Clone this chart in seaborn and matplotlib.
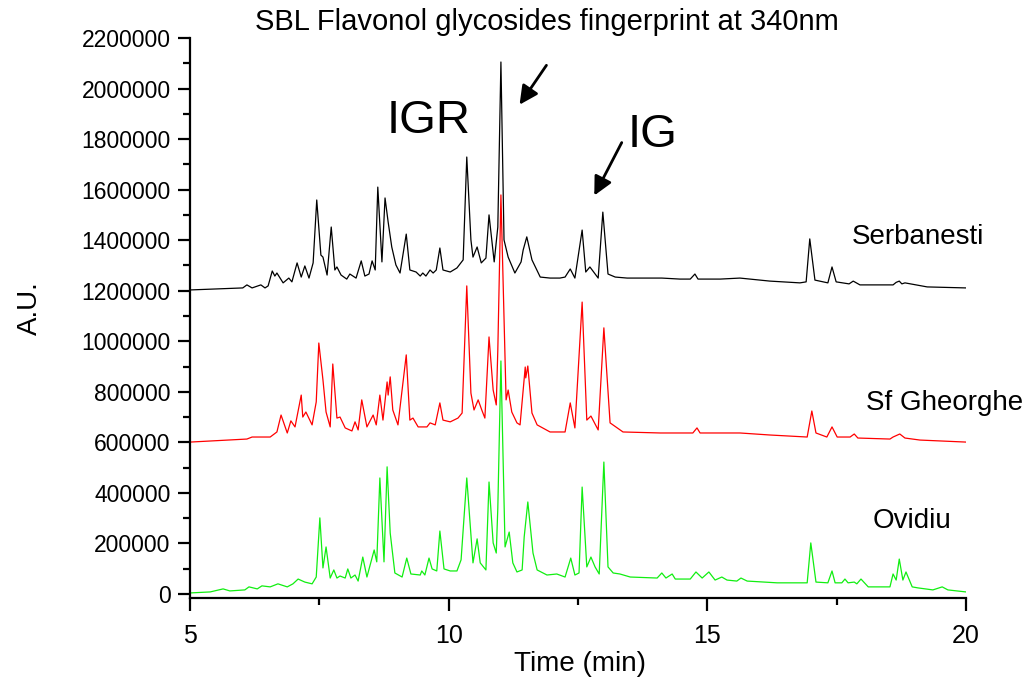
import numpy as np
import pandas as pd
import seaborn as sns
import matplotlib
matplotlib.use("Agg")
import matplotlib.pyplot as plt
from matplotlib.ticker import MultipleLocator

# | Data (time in min, signal in A.U.) |---------------------------------------------|
serbanesti_time = [5.00, 6.02, 6.10, 6.20, 6.37, 6.45, 6.51, 6.59, 6.64, 6.68, 6.80, 6.91, 6.97,
                   7.07, 7.15, 7.22, 7.30, 7.38, 7.45, 7.53, 7.57, 7.65, 7.73, 7.80, 7.84, 7.92,
                   8.03, 8.09, 8.15, 8.21, 8.31, 8.38, 8.46, 8.52, 8.58, 8.63, 8.71, 8.77, 8.83,
                   8.90, 8.98, 9.06, 9.18, 9.25, 9.37, 9.45, 9.50, 9.56, 9.64, 9.70, 9.76, 9.83,
                   9.89, 10.03, 10.16, 10.28, 10.35, 10.43, 10.47, 10.55, 10.63, 10.72, 10.78,
                   10.88, 10.95, 11.01, 11.07, 11.15, 11.28, 11.40, 11.44, 11.51, 11.61, 11.77,
                   11.96, 12.15, 12.25, 12.35, 12.44, 12.58, 12.65, 12.73, 12.89, 12.98, 13.08,
                   13.22, 13.45, 13.80, 14.12, 14.47, 14.67, 14.76, 14.82, 15.25, 15.63, 16.21,
                   16.79, 16.91, 16.98, 17.08, 17.33, 17.41, 17.49, 17.74, 17.82, 17.95, 18.59,
                   18.65, 18.71, 18.76, 18.82, 19.25, 20.00]
serbanesti_au = [1203000, 1211000, 1223000, 1211000, 1223000, 1211000, 1219000, 1278000, 1258000,
                 1270000, 1231000, 1250000, 1235000, 1310000, 1254000, 1298000, 1250000, 1310000,
                 1559000, 1341000, 1333000, 1262000, 1452000, 1282000, 1294000, 1262000, 1246000,
                 1266000, 1258000, 1250000, 1318000, 1258000, 1266000, 1318000, 1282000, 1610000,
                 1314000, 1567000, 1472000, 1373000, 1302000, 1270000, 1424000, 1282000, 1274000,
                 1258000, 1270000, 1258000, 1282000, 1270000, 1282000, 1369000, 1282000, 1274000,
                 1290000, 1322000, 1729000, 1401000, 1333000, 1373000, 1310000, 1329000, 1500000,
                 1314000, 1452000, 2105000, 1401000, 1333000, 1270000, 1314000, 1361000, 1413000,
                 1322000, 1254000, 1250000, 1250000, 1254000, 1286000, 1250000, 1440000, 1274000,
                 1294000, 1250000, 1511000, 1266000, 1254000, 1250000, 1250000, 1250000, 1246000,
                 1246000, 1266000, 1246000, 1246000, 1250000, 1238000, 1231000, 1235000, 1405000,
                 1242000, 1231000, 1294000, 1235000, 1227000, 1238000, 1223000, 1223000, 1233000,
                 1238000, 1227000, 1231000, 1215000, 1211000]

gheorghe_time = [5.00, 6.10, 6.20, 6.55, 6.68, 6.76, 6.88, 6.95, 7.03, 7.15, 7.18, 7.24, 7.36,
                 7.44, 7.49, 7.57, 7.63, 7.71, 7.76, 7.84, 7.90, 8.00, 8.13, 8.19, 8.25, 8.32,
                 8.42, 8.54, 8.60, 8.67, 8.73, 8.81, 8.83, 8.87, 8.92, 9.02, 9.18, 9.25, 9.31,
                 9.41, 9.58, 9.64, 9.74, 9.83, 9.89, 10.03, 10.18, 10.26, 10.35, 10.43, 10.49,
                 10.57, 10.64, 10.70, 10.78, 10.86, 10.92, 10.95, 11.01, 11.11, 11.15, 11.22,
                 11.32, 11.38, 11.48, 11.49, 11.53, 11.61, 11.71, 11.96, 12.25, 12.35, 12.44,
                 12.58, 12.67, 12.75, 12.89, 13.00, 13.12, 13.37, 14.09, 14.72, 14.80, 14.86,
                 15.63, 16.21, 16.93, 17.02, 17.10, 17.31, 17.41, 17.51, 17.76, 17.84, 17.91,
                 18.53, 18.59, 18.72, 18.82, 19.11, 20.00]
gheorghe_au = [601000, 613000, 621000, 621000, 641000, 708000, 637000, 685000, 661000, 787000,
               700000, 720000, 669000, 760000, 993000, 847000, 720000, 661000, 910000, 696000,
               700000, 657000, 645000, 681000, 649000, 768000, 661000, 708000, 669000, 787000,
               688000, 839000, 787000, 859000, 728000, 669000, 946000, 688000, 696000, 661000,
               661000, 677000, 669000, 756000, 688000, 681000, 696000, 716000, 1219000, 795000,
               728000, 768000, 728000, 696000, 1017000, 807000, 748000, 965000, 1579000, 768000,
               807000, 720000, 677000, 669000, 898000, 855000, 902000, 716000, 669000, 641000,
               641000, 756000, 657000, 1155000, 688000, 704000, 649000, 1053000, 677000, 641000,
               637000, 637000, 657000, 637000, 637000, 629000, 621000, 724000, 637000, 621000,
               661000, 621000, 621000, 633000, 617000, 613000, 621000, 633000, 617000, 609000,
               601000]

ovidiu_time = [5.00, 5.39, 5.64, 5.77, 6.06, 6.14, 6.30, 6.39, 6.55, 6.70, 6.88, 6.99, 7.09,
               7.22, 7.36, 7.44, 7.51, 7.57, 7.63, 7.71, 7.78, 7.84, 7.90, 8.00, 8.05, 8.11,
               8.19, 8.25, 8.34, 8.42, 8.56, 8.61, 8.67, 8.75, 8.81, 8.87, 8.96, 9.10, 9.19,
               9.27, 9.45, 9.48, 9.54, 9.62, 9.68, 9.77, 9.83, 9.91, 10.03, 10.16, 10.24, 10.35,
               10.47, 10.55, 10.61, 10.72, 10.78, 10.86, 10.92, 10.95, 11.01, 11.09, 11.17,
               11.24, 11.32, 11.42, 11.46, 11.53, 11.63, 11.71, 11.90, 12.09, 12.25, 12.36,
               12.44, 12.52, 12.58, 12.67, 12.75, 12.83, 12.91, 13.00, 13.08, 13.18, 13.31,
               13.51, 14.03, 14.12, 14.20, 14.32, 14.38, 14.67, 14.78, 14.90, 15.03, 15.15,
               15.28, 15.38, 15.57, 15.65, 15.77, 16.35, 16.93, 17.00, 17.10, 17.33, 17.41,
               17.47, 17.60, 17.66, 17.72, 17.84, 17.89, 17.97, 18.11, 18.53, 18.59, 18.65,
               18.71, 18.78, 18.84, 18.96, 19.07, 19.36, 19.54, 19.65, 20.00]
ovidiu_au = [4000, 8000, 20000, 12000, 16000, 28000, 20000, 32000, 28000, 40000, 28000, 40000,
             59000, 47000, 40000, 67000, 301000, 103000, 186000, 63000, 95000, 63000, 71000,
             63000, 99000, 63000, 75000, 51000, 146000, 67000, 174000, 127000, 459000, 127000,
             503000, 241000, 83000, 67000, 142000, 79000, 75000, 91000, 75000, 142000, 99000,
             91000, 249000, 99000, 91000, 91000, 135000, 459000, 123000, 218000, 123000, 95000,
             443000, 202000, 162000, 340000, 922000, 186000, 245000, 123000, 87000, 95000,
             226000, 364000, 162000, 95000, 75000, 79000, 67000, 142000, 75000, 83000, 423000,
             107000, 146000, 107000, 79000, 522000, 107000, 83000, 79000, 67000, 63000, 83000,
             63000, 79000, 59000, 59000, 87000, 63000, 87000, 55000, 67000, 55000, 51000, 63000,
             51000, 44000, 44000, 202000, 47000, 44000, 91000, 44000, 44000, 59000, 44000,
             47000, 40000, 59000, 28000, 28000, 79000, 55000, 138000, 55000, 87000, 28000,
             24000, 16000, 28000, 16000, 8000]

sample_names = ["Serbanesti", "Sf Gheorghe", "Ovidiu"]
sample_colors = ["black", "#ff0000", "#11ee11"]
# |----------------------------------------------------------------------------------|

sns.set_style("ticks")
plt.rcParams["font.family"] = ["Liberation Sans", "DejaVu Sans"]
plt.rcParams["text.color"] = "black"
plt.rcParams["axes.labelcolor"] = "black"
plt.rcParams["xtick.color"] = "black"
plt.rcParams["ytick.color"] = "black"
plt.rcParams["axes.edgecolor"] = "black"

fig = plt.figure(figsize=(10.36, 6.83), dpi=100)
ax = fig.add_axes([190 / 1036, 85 / 683, 776 / 1036, 560 / 683])

traces = [(serbanesti_time, serbanesti_au), (gheorghe_time, gheorghe_au), (ovidiu_time, ovidiu_au)]
for (t, au), name, color in zip(traces, sample_names, sample_colors):
    df = pd.DataFrame({"time": t, "au": au})
    sns.lineplot(data=df, x="time", y="au", color=color, lw=0.9, estimator=None, ax=ax)

ax.set_xlim(5, 20)
ax.set_ylim(-16000, 2200000)
ax.set_yticks(np.arange(0, 2200001, 200000))
ax.set_yticklabels([str(v) for v in range(0, 2200001, 200000)])
ax.set_xticks([5, 10, 15, 20])
ax.xaxis.set_minor_locator(MultipleLocator(2.5))
ax.yaxis.set_minor_locator(MultipleLocator(100000))
ax.tick_params(axis="y", which="major", length=9, width=1.6, labelsize=16.5, pad=5)
ax.tick_params(axis="y", which="minor", length=5, width=1.6)
ax.tick_params(axis="x", which="major", length=9, width=1.6, labelsize=18, pad=10)
ax.tick_params(axis="x", which="minor", length=5, width=1.6)
for side in ["left", "bottom"]:
    ax.spines[side].set_linewidth(1.6)
sns.despine(ax=ax)

ax.set_xlabel("Time (min)", fontsize=20)
ax.set_ylabel("A.U.", fontsize=20)
ax.xaxis.set_label_coords(0.503, -0.095)
ax.yaxis.set_label_coords(-0.190, 0.518)

ax.text(0.46, 1.029, "SBL Flavonol glycosides fingerprint at 340nm", transform=ax.transAxes,
        ha="center", va="center", fontsize=21)

# peak labels and arrows
ax.text(9.62, 1870000, "IGR", fontsize=34, ha="center", va="center")
ax.text(13.95, 1815000, "IG", fontsize=34, ha="center", va="center")
ax.annotate("", xy=(11.34, 1927000), xytext=(11.92, 2101000),
            arrowprops=dict(arrowstyle="-|>", mutation_scale=28, lw=2, color="black"))
ax.annotate("", xy=(12.79, 1567000), xytext=(13.37, 1796000),
            arrowprops=dict(arrowstyle="-|>", mutation_scale=28, lw=2, color="black"))

# sample names next to each trace
ax.text(17.80, 1413000, sample_names[0], fontsize=20, va="center")
ax.text(18.07, 756000, sample_names[1], fontsize=20, va="center")
ax.text(18.20, 289000, sample_names[2], fontsize=20, va="center")

fig.savefig("out.png", dpi=100)
